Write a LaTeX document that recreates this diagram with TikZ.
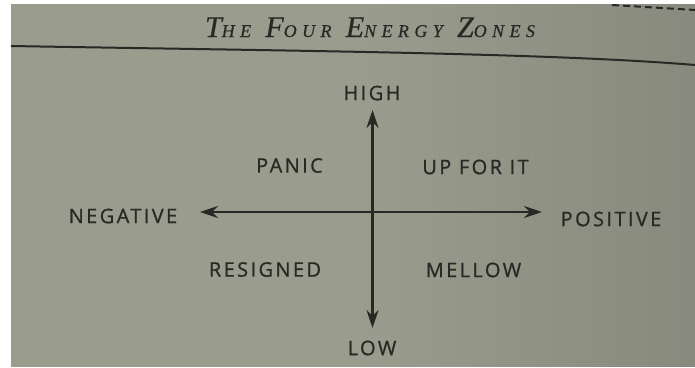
\documentclass[tikz,border=0pt]{standalone}
\usepackage{fontspec}
\setmainfont{Open Sans}[LetterSpace=12,FakeBold=0.9]
\newfontfamily\titlefont{Liberation Serif}[LetterSpace=30,FakeBold=0.6]
\usetikzlibrary{arrows.meta}
\definecolor{pagegray}{RGB}{154,156,142}
\definecolor{pagedark}{RGB}{136,138,125}
\definecolor{inkgray}{RGB}{40,41,37}
% big caps + small caps of the heading
\newcommand{\capword}[2]{{\fontsize{30}{30}\selectfont #1}{\fontsize{18}{18}\selectfont #2}}

\begin{document}
\begin{tikzpicture}[x=1pt,y=-1pt,
    zone/.style={font=\fontsize{20}{20}\selectfont,text=inkgray,inner sep=0pt},
    axis/.style={draw=inkgray,line width=2.4pt,
      {Stealth[length=18pt,width=12pt,inset=6pt]}-{Stealth[length=18pt,width=12pt,inset=6pt]}}]
  \useasboundingbox (0,0) rectangle (695,367);
  \fill[white] (0,0) rectangle (695,367);
  \shade[left color=pagegray,right color=pagedark,middle color=pagegray]
    (11,4) rectangle (695,366);
  % heading
  \node[font=\titlefont\itshape\fontsize{26}{26}\selectfont,text=inkgray,anchor=base,inner sep=0pt]
    (title) at (370,37)
    {\capword{T}{HE} \capword{F}{OUR} \capword{E}{NERGY} \capword{Z}{ONES}};
  \draw[inkgray,line width=2pt] (11,46) .. controls (300,51) and (550,53) .. (695,65);
  \draw[inkgray,line width=2pt,dash pattern=on 7pt off 4pt] (612,5) -- (695,10);
  % axes
  \coordinate (top) at (372.5,110);
  \coordinate (bottom) at (372.5,328);
  \coordinate (left) at (200,212);
  \coordinate (right) at (542,212);
  \draw[axis] (bottom) -- (top);
  \draw[axis] (left) -- (right);
  % labels
  \node[zone] (high) at (372,93) {HIGH};
  \node[zone] (low) at (372,348) {LOW};
  \node[zone] (negative) at (123,216) {NEGATIVE};
  \node[zone] (positive) at (611,219) {POSITIVE};
  \node[zone] (panic) at (289.5,165.5) {PANIC};
  \node[zone] (upforit) at (475.5,167) {UP FOR IT};
  \node[zone] (resigned) at (265,269.5) {RESIGNED};
  \node[zone] (mellow) at (473.5,270) {MELLOW};
\end{tikzpicture}
\end{document}
